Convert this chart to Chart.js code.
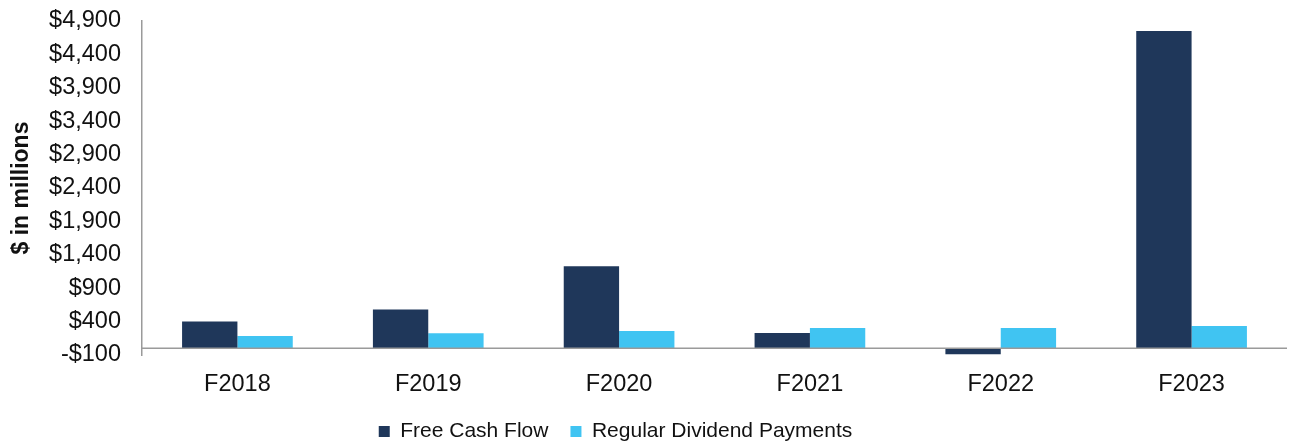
<!DOCTYPE html>
<html>
<head>
<meta charset="utf-8">
<script src="https://cdn.jsdelivr.net/npm/chart.js@4"></script>
<style>
  html, body { margin: 0; padding: 0; background: #fff; }
  #wrap { width: 1289px; height: 444px; }
</style>
</head>
<body>
<div id="wrap"><canvas id="chart" width="1289" height="444"></canvas></div>
<script>
// values ($ in millions)
const categories = ['F2018', 'F2019', 'F2020', 'F2021', 'F2022', 'F2023'];
const freeCashFlow = [400, 580, 1230, 230, -90, 4750];
const dividendPayments = [185, 225, 260, 305, 305, 335];
const yMin = -100;
const yMax = 4900;
const yStep = 500;

function money(v) {
  const s = '$' + Math.abs(v).toLocaleString('en-US');
  return v < 0 ? '-' + s : s;
}

// horizontal line at zero (the reference draws its category axis there)
const zeroLine = {
  id: 'zeroLine',
  afterDatasetsDraw(chart) {
    const y = chart.scales.y.getPixelForValue(0);
    const area = chart.chartArea;
    const ctx = chart.ctx;
    ctx.save();
    ctx.strokeStyle = '#9a9a9a';
    ctx.lineWidth = 1.5;
    ctx.beginPath();
    ctx.moveTo(area.left, y);
    ctx.lineTo(area.right, y);
    ctx.stroke();
    ctx.restore();
  }
};

// legend sits lower and a bit left of the canvas centre in the original
const legendShift = {
  id: 'legendShift',
  afterLayout(chart) {
    const l = chart.legend;
    l.left -= 28;
    l.right -= 28;
    l.top += 8;
    l.bottom += 8;
  }
};

Chart.defaults.font.family = "'Liberation Sans', Arial, sans-serif";
Chart.defaults.color = '#111';

const ctx = document.getElementById('chart').getContext('2d');
new Chart(ctx, {
  type: 'bar',
  data: {
    labels: categories,
    datasets: [
      {
        label: 'Free Cash Flow',
        data: freeCashFlow,
        backgroundColor: '#1f375a',
        borderWidth: 0
      },
      {
        label: 'Regular Dividend Payments',
        data: dividendPayments,
        backgroundColor: '#40c4f2',
        borderWidth: 0
      }
    ]
  },
  options: {
    responsive: false,
    animation: false,
    layout: { padding: { top: 21, right: 2, left: 0, bottom: 0 } },
    datasets: {
      bar: { categoryPercentage: 0.58, barPercentage: 1.0 }
    },
    plugins: {
      tooltip: { enabled: false },
      legend: {
        position: 'bottom',
        labels: {
          boxWidth: 11,
          boxHeight: 11,
          padding: 22,
          font: { size: 21 },
          color: '#111'
        }
      }
    },
    scales: {
      x: {
        afterFit(scale) { scale.height = 36; },
        grid: { display: false, drawTicks: false },
        border: { display: false },
        ticks: { font: { size: 23.5 }, padding: 15, color: '#111' }
      },
      y: {
        min: yMin,
        max: yMax,
        afterBuildTicks(scale) {
          const t = [];
          for (let v = yMin; v <= yMax; v += yStep) t.push({ value: v });
          scale.ticks = t;
        },
        afterFit(scale) {
          scale.width = 142;
          scale.paddingTop = 0;
          scale.paddingBottom = 0;
        },
        grid: { display: false, drawTicks: false },
        border: { display: true, color: '#9a9a9a', width: 1.5 },
        ticks: {
          font: { size: 23.5 },
          padding: 21,
          color: '#111',
          callback: v => money(v)
        },
        title: {
          display: true,
          text: '$ in millions',
          font: { size: 23, weight: 'bold' },
          color: '#111',
          padding: { top: 8, bottom: 0 }
        }
      }
    }
  },
  plugins: [zeroLine, legendShift]
});
</script>
</body>
</html>
